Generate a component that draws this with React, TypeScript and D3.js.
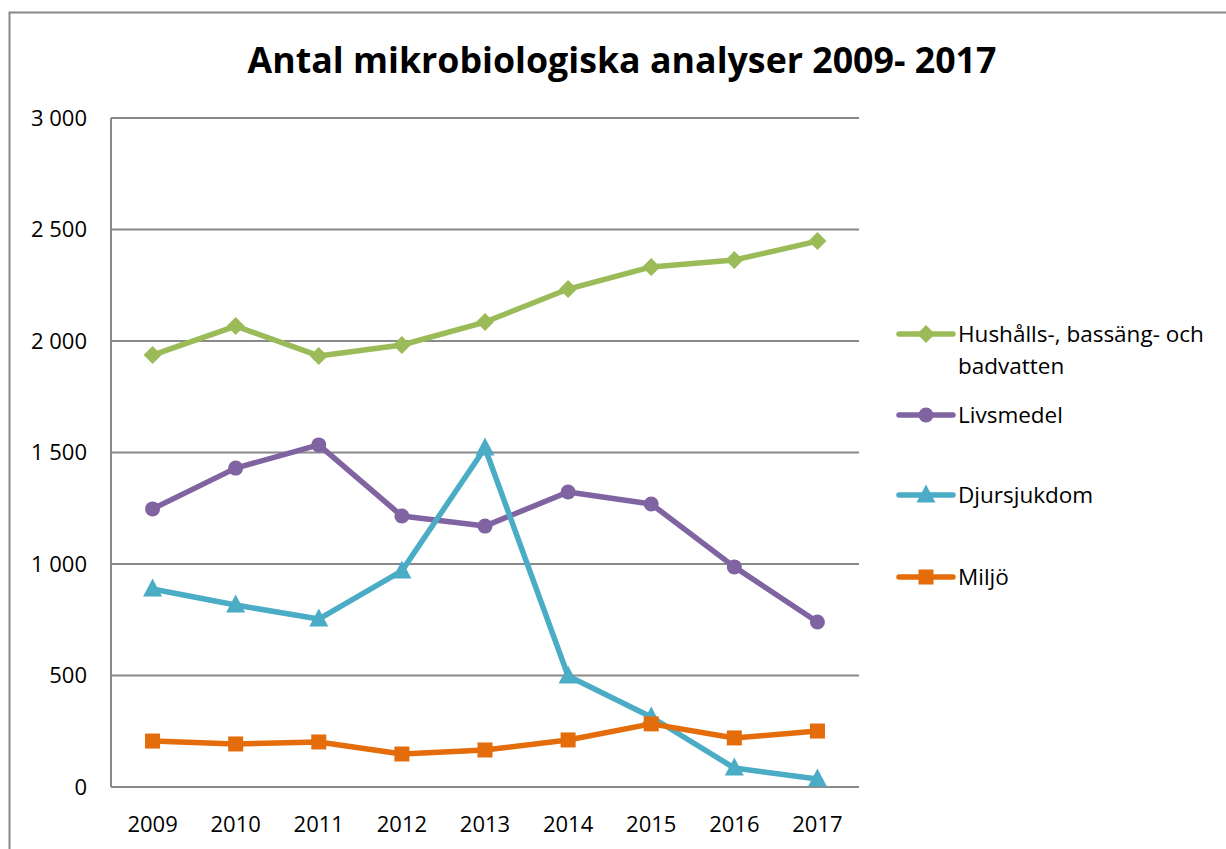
import React from "react";
import * as d3 from "d3";

const years = ["2009", "2010", "2011", "2012", "2013", "2014", "2015", "2016", "2017"];
const hushall = [1937, 2067, 1933, 1982, 2085, 2233, 2332, 2363, 2448];
const livsmedel = [1247, 1430, 1534, 1215, 1170, 1323, 1269, 987, 740];
const djursjukdom = [888, 816, 753, 969, 1520, 498, 314, 85, 36];
const miljo = [206, 193, 202, 148, 166, 211, 283, 220, 251];
const yTicks = [0, 500, 1000, 1500, 2000, 2500, 3000];
const seriesNames = ["Hushålls-, bassäng- och|badvatten", "Livsmedel", "Djursjukdom", "Miljö"];
const title = "Antal mikrobiologiska analyser 2009- 2017";

const FONT = "'Open Sans', sans-serif";

export default function App() {
  const W = 1226, H = 849;
  const left = 111, right = 859, top = 118, bottom = 787;
  const x = d3.scaleBand().domain(years).range([left, right]);
  const y = d3.scaleLinear().domain([0, 3000]).range([bottom, top]);
  const cx = (yr: string) => (x(yr) as number) + x.bandwidth() / 2;
  const line = d3.line<[string, number]>().x(d => cx(d[0])).y(d => y(d[1]));
  const fmt = (v: number) => d3.format(",")(v).replace(",", " ");

  const series = [
    { name: seriesNames[0], values: hushall, color: "#9BBB59", marker: "diamond", ly: 334 },
    { name: seriesNames[1], values: livsmedel, color: "#8064A2", marker: "circle", ly: 415 },
    { name: seriesNames[2], values: djursjukdom, color: "#4BACC6", marker: "triangle", ly: 495 },
    { name: seriesNames[3], values: miljo, color: "#E46C0A", marker: "square", ly: 577 },
  ];

  const marker = (kind: string, px: number, py: number, color: string, key: string | number) => {
    if (kind === "diamond") {
      const s = 9;
      return <path key={key} d={`M${px},${py - s}L${px + s},${py}L${px},${py + s}L${px - s},${py}Z`} fill={color} />;
    }
    if (kind === "circle") return <circle key={key} cx={px} cy={py} r={7.5} fill={color} />;
    if (kind === "triangle") {
      const s = 9.5;
      return <path key={key} d={`M${px},${py - s - 1}L${px + s},${py + s - 2}L${px - s},${py + s - 2}Z`} fill={color} />;
    }
    return <rect key={key} x={px - 7.5} y={py - 7.5} width={15} height={15} fill={color} />;
  };

  return (
    <svg width={W} height={H} style={{ position: "absolute", left: 0, top: 0, background: "#fff" }}>
      <rect x={9.5} y={12.5} width={W + 20} height={H + 20} fill="#fff" stroke="#878787" strokeWidth={2} />
      <text x={622} y={73} textAnchor="middle" fontFamily={FONT} fontWeight={700} fontSize={35}
        textLength={749} lengthAdjust="spacingAndGlyphs" fill="#000">{title}</text>
      {yTicks.map(t => (
        <g key={t}>
          <line x1={left} x2={right} y1={y(t)} y2={y(t)} stroke="#898989" strokeWidth={2} />
          <text x={87} y={y(t)} dy="0.35em" textAnchor="end" fontFamily={FONT} fontSize={22} fill="#000">{fmt(t)}</text>
        </g>
      ))}
      <line x1={left} x2={left} y1={top} y2={bottom} stroke="#898989" strokeWidth={2} />
      {years.map(yr => (
        <text key={yr} x={cx(yr)} y={824} dy="0.35em" textAnchor="middle" fontFamily={FONT} fontSize={22} fill="#000">{yr}</text>
      ))}
      {series.map((s, i) => (
        <g key={i}>
          <path d={line(years.map((yr, j) => [yr, s.values[j]] as [string, number])) || ""} fill="none"
            stroke={s.color} strokeWidth={5.5} strokeLinejoin="round" strokeLinecap="round" />
          {years.map((yr, j) => marker(s.marker, cx(yr), y(s.values[j]), s.color, j))}
        </g>
      ))}
      {series.map((s, i) => (
        <g key={"l" + i}>
          <line x1={899} x2={953} y1={s.ly} y2={s.ly} stroke={s.color} strokeWidth={5.5} strokeLinecap="round" />
          {marker(s.marker, 926, s.ly, s.color, "m")}
          {s.name.split("|").map((t, k) => (
            <text key={k} x={958} y={s.ly + k * 32} dy="0.35em" fontFamily={FONT} fontSize={22.5} fill="#000">{t}</text>
          ))}
        </g>
      ))}
    </svg>
  );
}
